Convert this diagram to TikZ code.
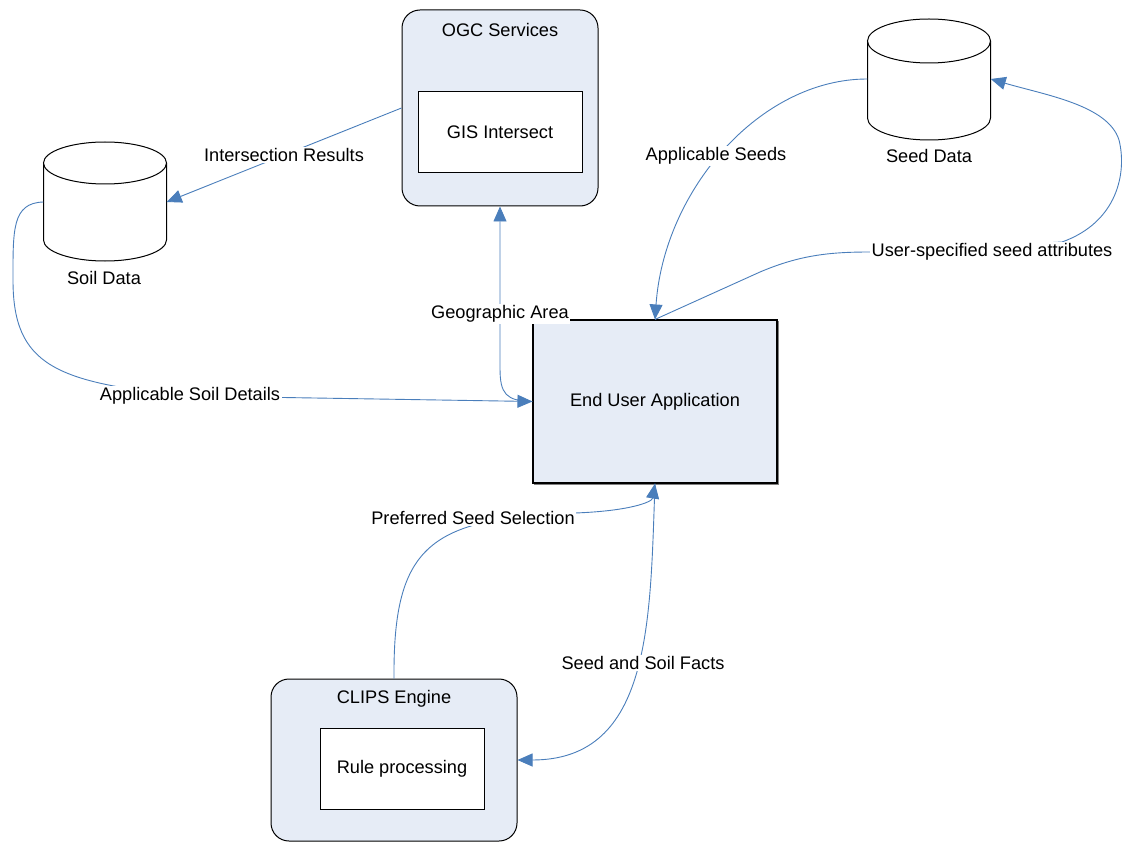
\documentclass[tikz,border=0pt]{standalone}
\usepackage{fontspec}
\setmainfont{Liberation Sans}
\usetikzlibrary{arrows.meta}
\definecolor{conn}{HTML}{4A7EBB}
\definecolor{boxfill}{HTML}{E6ECF6}
\begin{document}
\begin{tikzpicture}[x=1pt,y=-1pt,
  every node/.style={font=\fontsize{18.2}{22}\selectfont, inner sep=0pt},
  outerbox/.style={draw=black, line width=1pt, fill=boxfill, rounded corners=18pt},
  innerbox/.style={draw=black, line width=1pt, fill=white},
  mainbox/.style={draw=black, line width=1.1pt, fill=boxfill},
  link/.style={draw=conn, line width=0.9pt},
  tip/.style={-{Triangle[length=15pt,width=13pt,fill=conn]}},
  lbl/.style={fill=white, inner sep=1.5pt},
  cylbody/.style={draw=black, line width=1pt, fill=white}
]
\useasboundingbox (0,0) rectangle (1123,842);

% boxes
\node[outerbox, minimum width=196pt, minimum height=196pt] (ogc) at (500,108) {};
\node (ogct) at (500,30) {OGC Services};
\node[innerbox, minimum width=164pt, minimum height=81pt] (gis) at (500,132.5) {GIS Intersect};

\draw[gray, line width=1.2pt] (778.5,321) -- (778.5,484.5) -- (534,484.5);
\node[mainbox, minimum width=244pt, minimum height=163pt] (eua) at (655,401.5) {End User Application};

\node[outerbox, minimum width=246pt, minimum height=162pt] (clips) at (394,760) {};
\node (clipst) at (394,699) {CLIPS Engine};
\node[innerbox, minimum width=164pt, minimum height=81pt] (rule) at (402,768.5) {Rule processing};

% cylinders
\draw[cylbody] (43.5,163) -- (43.5,240) arc[start angle=180, end angle=0, x radius=61.5, y radius=21] -- (166.5,163);
\draw[cylbody] (105,163) ellipse[x radius=61.5, y radius=21];
\node[minimum width=123pt, minimum height=120pt] (soil) at (105,202) {};
\node (soilt) at (104,278) {Soil Data};

\draw[cylbody] (867.5,41) -- (867.5,118) arc[start angle=180, end angle=0, x radius=61.5, y radius=22] -- (990.5,41);
\draw[cylbody] (929,41) ellipse[x radius=61.5, y radius=22];
\node[minimum width=123pt, minimum height=122pt] (seed) at (929,79) {};
\node (seedt) at (929,156) {Seed Data};

% connectors
\draw[link, tip] (ogc.west) -- (soil.east);
\node[lbl] (l1) at (284,155) {Intersection Results};

\draw[link, tip] (eua.west) .. controls (506,401) and (500,394) .. (500,368) -- (ogc.south);
\node[lbl] (l2) at (500,314) {Geographic Area};

\draw[link, tip] (soil.west) .. controls (12,203) and (13,230) .. (13,280)
  .. controls (13,365) and (55,383) .. (190,396) -- (eua.west);
\node[lbl] (l3) at (190,396) {Applicable Soil Details};

\draw[link, tip] (seed.west) .. controls (760,79) and (664,190) .. (eua.north);
\node[lbl] (l4) at (716,156) {Applicable Seeds};

\draw[link, tip] (eua.north) -- (760,272) .. controls (800,255) and (830,252) .. (870,252)
  -- (1062,242) .. controls (1118,222) and (1127,172) .. (1119,140)
  .. controls (1108,105) and (1045,95) .. (seed.east);
\node[lbl] (l5) at (992,252) {User-specified seed attributes};

\draw[link, tip] (clips.north) .. controls (393,545) and (430,518) .. (575,513)
  .. controls (630,511) and (652,502) .. (eua.south);
\node[lbl] (l6) at (473,518) {Preferred Seed Selection};

\draw[link, tip] (eua.south) .. controls (650,620) and (652,760) .. (clips.east);
\node[lbl] (l7) at (643,663) {Seed and Soil Facts};
\end{tikzpicture}
\end{document}
